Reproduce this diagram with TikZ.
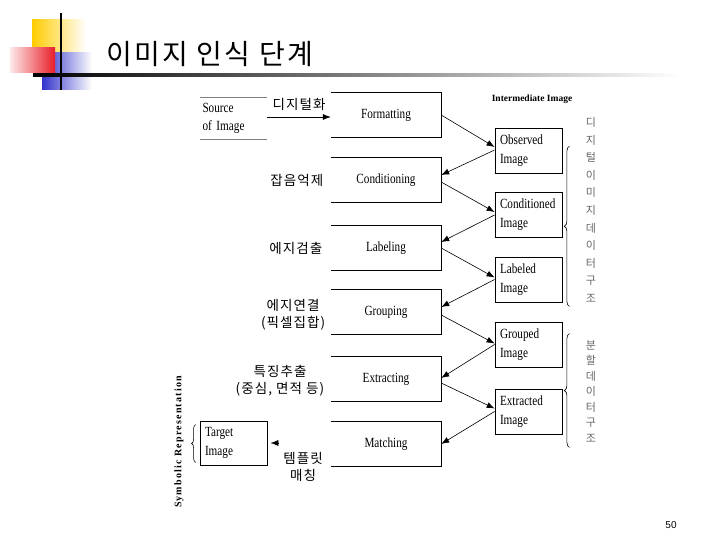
\documentclass[tikz,border=0pt]{standalone}
\usepackage{fontspec}
\setmainfont{Liberation Serif}
\newfontfamily\condfont[FakeStretch=0.8]{Liberation Serif}
\newfontfamily\krfont{Noto Sans CJK KR}
\newfontfamily\krtitle[LetterSpace=8]{Noto Sans CJK KR}
\newfontfamily\krlab[LetterSpace=8]{Noto Sans CJK KR}
\newfontfamily\numfont{Liberation Sans}
\usetikzlibrary{arrows.meta,positioning,decorations.pathreplacing,calc}

\definecolor{ttlyellow}{RGB}{255,204,0}
\definecolor{ttlred}{RGB}{232,30,40}
\definecolor{ttlblue}{RGB}{51,51,204}

\tikzset{
  procbox/.style={minimum width=110pt, minimum height=44pt, inner sep=0pt,
    font=\condfont\fontsize{14}{16}\selectfont},
  imgbox/.style={draw, line width=0.8pt, minimum height=45pt, text width=57pt,
    inner xsep=5pt, inner ysep=0pt, align=left, font=\condfont\fontsize{14}{19}\selectfont},
  steplabel/.style={align=center, font=\krlab\fontsize{13.5}{17}\selectfont},
  flow/.style={line width=0.6pt, -{Latex[length=8pt,width=6pt]}},
  sidebrace/.style={decorate, decoration={brace, amplitude=5pt}, line width=0.6pt}
}

\begin{document}
\begin{tikzpicture}[x=1pt, y=-1pt]
  \useasboundingbox (0,0) rectangle (720,540);

  % title decoration
  \shade[left color=ttlyellow, middle color=ttlyellow, right color=white] (32,20) rectangle (86,56);
  \shade[left color=ttlblue, middle color=ttlblue, right color=white] (42,53) rectangle (92,90);
  \shade[left color=ttlred!10, right color=ttlred] (10,48) rectangle (55,73);
  \draw[line width=2pt] (61,13) -- (61,90);
  \shade[left color=black, right color=white] (33,74) rectangle (680,77);
  \node (title) [anchor=west, font=\krtitle\fontsize{28}{32}\selectfont] at (103,54) {이미지 인식 단계};

  % process steps
  \node (fmt) [procbox] at (386,115) {Formatting};
  \node (cnd) [procbox] at (386,180) {Conditioning};
  \node (lbl) [procbox] at (386,248) {Labeling};
  \node (grp) [procbox] at (386,312) {Grouping};
  \node (ext) [procbox] at (386,379) {Extracting};
  \node (mat) [procbox] at (386,444) {Matching};
  \foreach \n in {fmt,cnd,lbl,grp,ext,mat}
    \draw[line width=0.8pt] (\n.north west) -- (\n.north east) -- (\n.south east) -- (\n.south west);

  % intermediate images
  \node (inter) [font=\bfseries\fontsize{9.5}{11}\selectfont] at (532,99) {Intermediate Image};
  \node (obs) [imgbox] at (528.5,151) {Observed\\Image};
  \node (cdi) [imgbox] at (528.5,215) {Conditioned\\Image};
  \node (lbi) [imgbox] at (528.5,279.5) {Labeled\\Image};
  \node (gri) [imgbox] at (528.5,344.5) {Grouped\\Image};
  \node (exi) [imgbox] at (528.5,411.5) {Extracted\\Image};

  % source and target
  \node (src) [minimum width=67pt, minimum height=42pt, text width=62pt, inner xsep=0pt,
    align=left, font=\condfont\fontsize{14}{18}\selectfont] at (233.5,118) {Source\\of Image};
  \draw[gray] (src.north west) -- (src.north east);
  \draw[gray] (src.south west) -- (src.south east);
  \node (tgt) [draw, line width=0.8pt, minimum width=67pt, minimum height=44pt, text width=57pt,
    inner xsep=5pt, align=left, font=\condfont\fontsize{14}{19}\selectfont] at (233.5,443) {Target\\Image};

  % zigzag flow
  \draw[flow] ([yshift=1pt]src.east) -- ([yshift=1pt]src.east -| fmt.west) node (dig) [midway, above=3pt, steplabel] {디지털화};
  \draw[flow] (fmt.east) -- ([yshift=4pt]obs.west);
  \draw[flow] ([yshift=1pt]obs.west) -- ([yshift=5pt]cnd.east);
  \draw[flow] ([yshift=-2pt]cnd.east) -- ([yshift=3pt]cdi.west);
  \draw[flow] (cdi.west) -- ([yshift=6pt]lbl.east);
  \draw[flow] (lbl.east) -- ([yshift=2pt]lbi.west);
  \draw[flow] (lbi.west) -- ([yshift=5pt]grp.east);
  \draw[flow] ([yshift=-3pt]grp.east) -- ([yshift=1pt]gri.west);
  \draw[flow] (gri.west) -- ([yshift=1pt]ext.east);
  \draw[flow] ([yshift=-4pt]ext.east) -- ([yshift=3pt]exi.west);
  \draw[flow] (exi.west) -- (mat.east);
  \draw[flow] ([xshift=11pt]tgt.east) -- ([xshift=3pt]tgt.east);

  % step labels
  \node (noise) [steplabel, left=4pt of cnd] {잡음억제};
  \node (edge) [steplabel, left=5pt of lbl] {에지검출};
  \node (link) [steplabel, left=2pt of grp, yshift=-3pt] {에지연결\\(픽셀집합)};
  \node (feat) [steplabel, left=3pt of ext, yshift=-2pt] {특징추출\\(중심, 면적 등)};
  \node (tmpl) [steplabel] at (303,467) {템플릿\\매칭};

  % braces and side texts
  \draw[sidebrace] ([xshift=7pt,yshift=-4pt]lbi.south east) -- ([xshift=7pt,yshift=-18pt]obs.north east);
  \draw[sidebrace] ([xshift=7pt,yshift=-13pt]exi.south east) -- ([xshift=7pt,yshift=-12pt]gri.north east);
  \draw[sidebrace, decoration={amplitude=4pt}] ([xshift=-4pt,yshift=3pt]tgt.south west) -- ([xshift=-4pt,yshift=-4pt]tgt.north west);
  \node (dstr) [align=center, text=gray!80!black, font=\krfont\fontsize{11}{17.6}\selectfont] at (591,210)
    {디\\지\\털\\이\\미\\지\\데\\이\\터\\구\\조};
  \node (sstr) [align=center, text=gray!80!black, font=\krfont\fontsize{11}{15.5}\selectfont] at (591,391.5)
    {분\\할\\데\\이\\터\\구\\조};
  \node (symb) [rotate=90, font=\addfontfeature{LetterSpace=12}\bfseries\fontsize{10}{12}\selectfont] at (179,442)
    {Symbolic Representation};

  \node (page) [font=\numfont\fontsize{10}{12}\selectfont] at (671,525) {50};
\end{tikzpicture}
\end{document}
